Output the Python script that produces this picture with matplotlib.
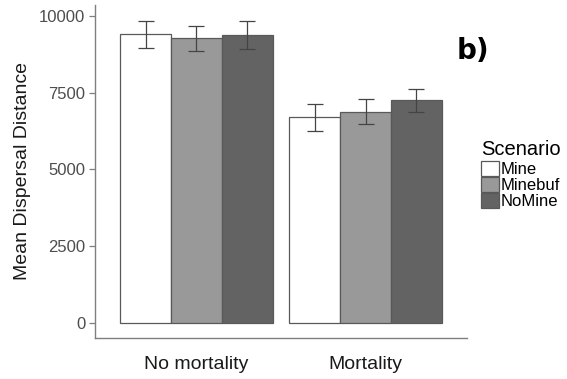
import matplotlib
matplotlib.use("Agg")
import matplotlib.pyplot as plt
import numpy as np
from matplotlib.patches import Patch

plt.rcParams["font.family"] = ["Liberation Sans", "DejaVu Sans"]

# Mean dispersal distance by mortality treatment and scenario
groups = ["No mortality", "Mortality"]
scenarios = ["Mine", "Minebuf", "NoMine"]
means = {
    "Mine": [9395, 6693],
    "Minebuf": [9264, 6877],
    "NoMine": [9383, 7247],
}
errors = {
    "Mine": [450, 450],
    "Minebuf": [410, 400],
    "NoMine": [450, 375],
}
fills = {"Mine": "#ffffff", "Minebuf": "#999999", "NoMine": "#636363"}

fig = plt.figure(figsize=(5.67, 3.79), dpi=100)
ax = fig.add_axes([0.1676, 0.1082, 0.656, 0.8786])

x = np.arange(1, len(groups) + 1)
w = 0.3
for i, s in enumerate(scenarios):
    pos = x + (i - 1) * w
    ax.bar(pos, means[s], width=w, color=fills[s], edgecolor="#595959",
           linewidth=0.9, zorder=2)
    ax.errorbar(pos, means[s], yerr=errors[s], fmt="none", ecolor="#444444",
                elinewidth=0.9, capsize=6, capthick=0.9, zorder=3)

ax.set_xlim(0.4, 2.6)
ax.set_ylim(-490, 10350)
ax.set_yticks([0, 2500, 5000, 7500, 10000])
ax.set_xticks(x)
ax.set_xticklabels(groups, fontsize=14, color="#1a1a1a")
ax.tick_params(axis="x", length=0, pad=13)
ax.tick_params(axis="y", length=4, width=0.9, color="#7f7f7f",
               labelsize=12, labelcolor="#4d4d4d", pad=3)

for side in ("top", "right"):
    ax.spines[side].set_visible(False)
for side in ("left", "bottom"):
    ax.spines[side].set_color("#7f7f7f")
    ax.spines[side].set_linewidth(1.0)

ax.set_ylabel("Mean Dispersal Distance", fontsize=14, color="#1a1a1a", labelpad=6)

handles = [Patch(facecolor=fills[s], edgecolor="#595959", linewidth=0.9)
           for s in scenarios]
leg = fig.legend(handles, scenarios, loc="upper left",
                 bbox_to_anchor=(0.848, 0.63), frameon=False,
                 title="Scenario", title_fontsize=14.5, fontsize=12,
                 handlelength=1.1, handleheight=1.0, labelspacing=0.0,
                 handletextpad=0.1, borderpad=0, borderaxespad=0)
leg._legend_box.align = "left"
leg._legend_box.sep = 1

fig.text(0.806, 0.845, "b)", fontsize=20, fontweight="bold",
         family=["DejaVu Sans"], color="black")

fig.savefig("out.png", dpi=100)
